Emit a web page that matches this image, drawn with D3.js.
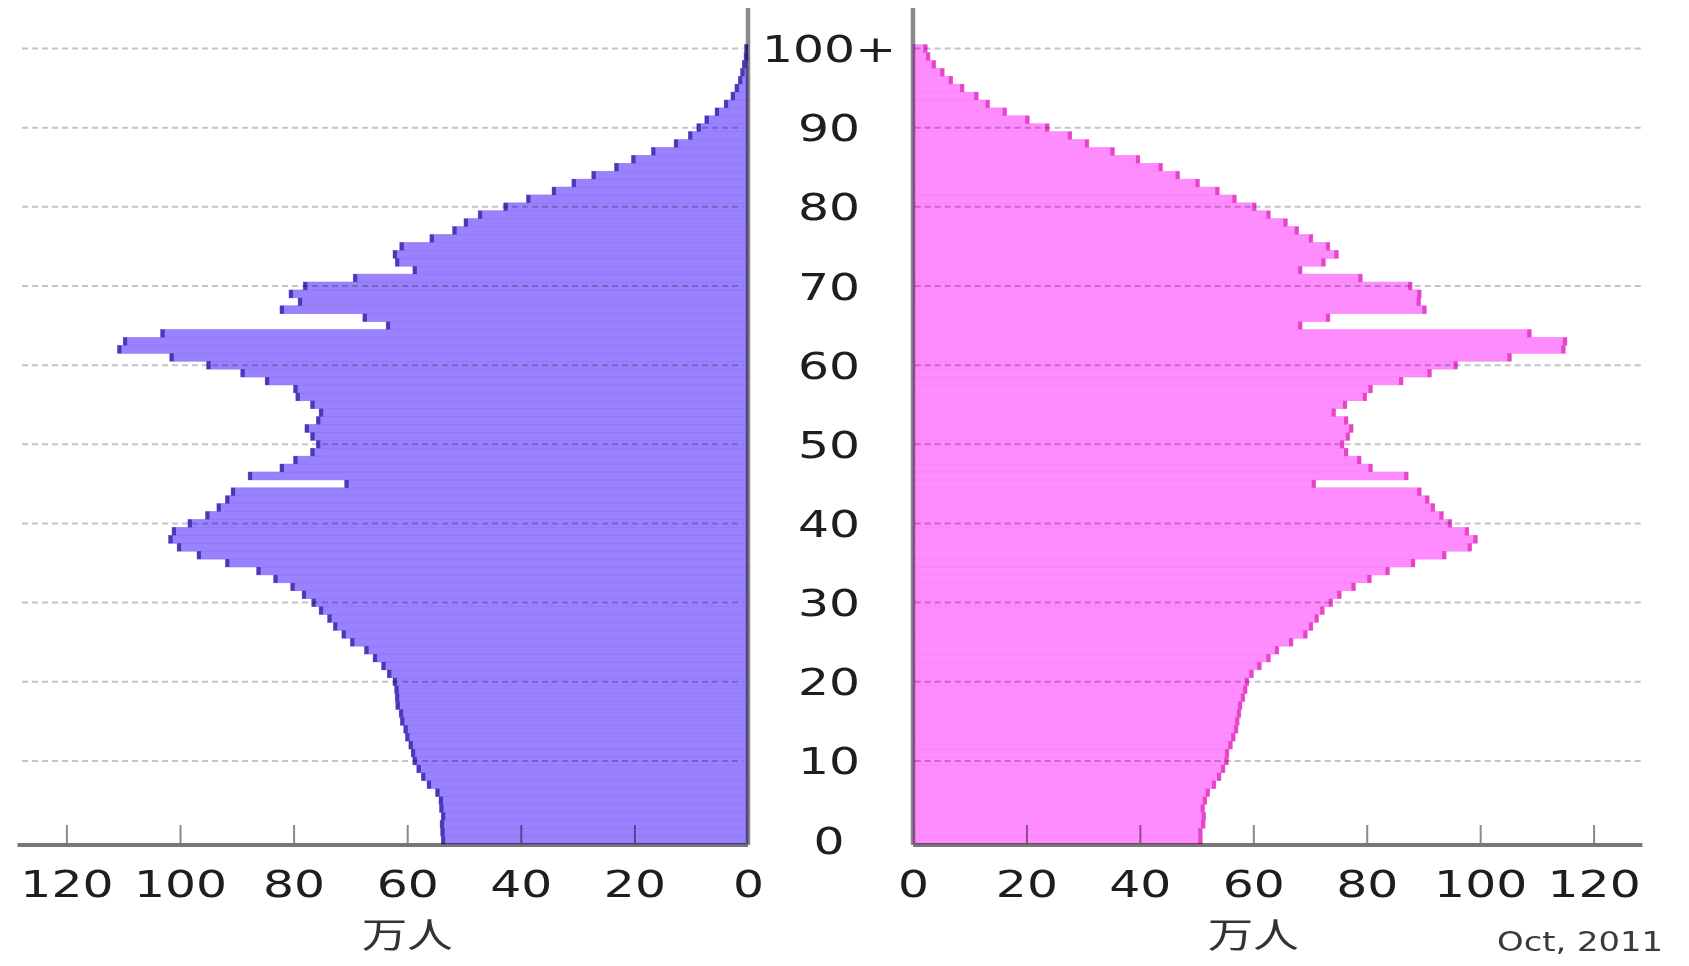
<!DOCTYPE html>
<html><head><meta charset="utf-8">
<script src="https://cdn.jsdelivr.net/npm/d3@7"></script>
<style>html,body{margin:0;padding:0;background:#fff;} svg{display:block;}</style>
</head><body>
<svg id="c" width="1689" height="966"></svg>
<script>
// ---- data (万人, ages 0..100+) ----
const ages = d3.range(0, 101);
const male = [
 54.0,54.1,54.2,54.0,54.3,54.4,55.0,56.5,57.5,58.3,
 59.0,59.3,59.7,60.3,60.6,61.2,61.4,62.0,62.1,62.2,
 62.5,63.5,64.5,66.0,67.5,70.0,71.5,73.0,74.0,75.5,
 76.8,78.5,80.5,83.5,86.5,92.0,97.0,100.5,102.0,101.4,
 98.6,95.5,93.5,92.0,91.0,71.0,88.0,82.4,80.0,77.0,
 76.0,77.0,78.0,76.0,75.5,77.0,79.6,80.0,85.0,89.3,
 95.3,101.8,111.0,110.0,103.4,63.7,67.8,82.4,79.2,80.8,
 78.3,69.5,59.0,62.1,62.5,61.3,56.0,52.0,50.0,47.5,
 43.0,39.0,34.5,31.0,27.5,23.5,20.5,17.0,13.0,10.5,
 9.0,7.6,5.8,4.2,3.0,2.3,1.7,1.3,1.0,0.7,0.6
];
const female = [
 51.0,51.0,51.5,51.6,51.4,51.8,52.3,53.4,54.3,55.0,
 55.6,55.7,56.3,56.8,57.3,57.5,57.8,58.0,58.5,58.9,
 59.2,60.0,61.4,63.0,64.5,67.0,69.5,70.5,71.5,72.5,
 74.0,75.5,78.0,80.8,84.0,88.5,94.0,98.5,99.5,98.0,
 95.0,93.5,92.0,91.0,89.6,71.0,87.3,81.0,79.0,76.7,
 76.0,77.0,77.6,76.7,74.5,76.5,80.0,81.0,86.4,91.4,
 96.0,105.5,115.0,115.3,109.0,68.6,73.5,90.5,89.5,89.6,
 88.0,79.2,68.6,72.7,75.0,73.5,70.5,68.0,66.0,63.0,
 60.5,57.0,54.0,50.5,47.0,44.0,40.0,35.5,31.0,28.0,
 24.0,20.5,16.5,13.5,11.5,9.0,7.0,5.5,4.0,3.0,2.5
];
const ageTickValues = [0,10,20,30,40,50,60,70,80,90,100];
const ageTickLabels = ["0","10","20","30","40","50","60","70","80","90","100+"];
const xTickValues = [0,20,40,60,80,100,120];
const unitLabel = "万人";
const dateLabel = "Oct, 2011";

// ---- layout ----
const svg = d3.select("#c");
const y = d3.scaleBand().domain(ages).range([844, 44.6]).paddingInner(0).paddingOuter(0);
const yc = a => y(a) + y.bandwidth() / 2;
const xL = d3.scaleLinear().domain([0, 120]).range([748, 66.4]);
const xR = d3.scaleLinear().domain([0, 120]).range([913, 1593.6]);
const axisY = 845;
const SX = 1.32;
const font = "'DejaVu Sans', Verdana, sans-serif";

// bars
const gL = svg.append("g");
gL.selectAll("rect.bar").data(ages).join("rect")
  .attr("x", a => xL(male[a])).attr("y", a => y(a))
  .attr("width", a => xL(0) - xL(male[a])).attr("height", y.bandwidth())
  .attr("fill", "#9a82ff").attr("stroke", "#8b72f4").attr("stroke-width", 0.6);
gL.selectAll("rect.cap").data(ages).join("rect")
  .attr("x", a => xL(male[a])).attr("y", a => y(a))
  .attr("width", a => Math.min(4, xL(0) - xL(male[a]))).attr("height", y.bandwidth())
  .attr("fill", "#4a38b4");

const gR = svg.append("g");
gR.selectAll("rect.bar").data(ages).join("rect")
  .attr("x", xR(0)).attr("y", a => y(a))
  .attr("width", a => xR(female[a]) - xR(0)).attr("height", y.bandwidth())
  .attr("fill", "#ff8cff").attr("stroke", "#f582f5").attr("stroke-width", 0.6);
gR.selectAll("rect.cap").data(ages).join("rect")
  .attr("x", a => xR(female[a]) - Math.min(4, xR(female[a]) - xR(0))).attr("y", a => y(a))
  .attr("width", a => Math.min(4, xR(female[a]) - xR(0))).attr("height", y.bandwidth())
  .attr("fill", "#e844c6");

// dashed grid (drawn over bars, multiply)
const grid = svg.append("g").style("mix-blend-mode", "multiply");
ageTickValues.filter(v => v > 0).forEach(v => {
  grid.append("line").attr("x1", xL(127.8)).attr("x2", xL(0.9))
    .attr("y1", yc(v)).attr("y2", yc(v))
    .attr("stroke", "#c4c4c4").attr("stroke-width", 2).attr("stroke-dasharray", "6,4");
  grid.append("line").attr("x1", xR(0.3)).attr("x2", xR(128.5))
    .attr("y1", yc(v)).attr("y2", yc(v))
    .attr("stroke", "#c4c4c4").attr("stroke-width", 2).attr("stroke-dasharray", "6,4");
});

// axes
const ax = svg.append("g").style("mix-blend-mode", "multiply");
function bottomAxis(scale, ext) {
  const g = ax.append("g").attr("transform", `translate(0,${axisY})`)
    .call(d3.axisBottom(scale).tickValues(xTickValues).tickSize(-20).tickSizeOuter(0).tickFormat(d3.format("d")));
  g.select(".domain").remove();
  g.selectAll(".tick line").attr("stroke", "#8a8a8a").attr("stroke-width", 2);
  g.selectAll(".tick text").attr("y", 52).attr("dy", null)
    .attr("transform", `scale(${SX},1)`)
    .style("font-family", font).style("font-size", "37px").attr("fill", "#1e1e1e");
  g.append("line").attr("x1", scale(ext[0])).attr("x2", scale(ext[1]))
    .attr("y1", 0).attr("y2", 0).attr("stroke", "#777").attr("stroke-width", 4);
}
bottomAxis(xL, [0, 128.6]);
bottomAxis(xR, [0, 128.6]);

[xL(0), xR(0)].forEach(x => {
  ax.append("line").attr("x1", x).attr("x2", x).attr("y1", 8).attr("y2", axisY)
    .attr("stroke", "#8a8a8a").attr("stroke-width", 4.5);
});

// age labels
const ageX = 829;
svg.append("g").selectAll("text").data(ageTickValues).join("text")
  .attr("transform", v => `translate(${ageX},${yc(v)}) scale(${SX},1)`)
  .attr("text-anchor", "middle").attr("dy", "0.365em")
  .style("font-family", font).style("font-size", "37px").attr("fill", "#1e1e1e")
  .text((v, i) => ageTickLabels[i]);

// unit labels
[xL(60), xR(60)].forEach(x => {
  svg.append("text").attr("transform", `translate(${x},948) scale(1.3,1)`)
    .attr("text-anchor", "middle")
    .style("font-family", "'Noto Sans CJK JP','Noto Sans CJK SC',sans-serif").style("font-size", "35px")
    .attr("fill", "#333").text(unitLabel);
});

svg.append("text").attr("transform", `translate(1580,951) scale(1.3,1)`)
  .attr("text-anchor", "middle")
  .style("font-family", font).style("font-size", "26px").attr("fill", "#3a3a3a")
  .text(dateLabel);
</script>
</body></html>
